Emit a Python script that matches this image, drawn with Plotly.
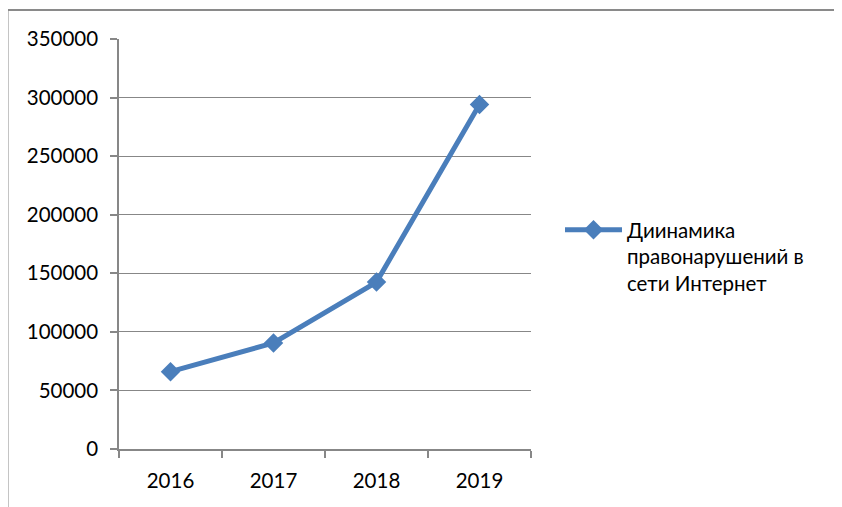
import plotly.graph_objects as go

years = ["2016", "2017", "2018", "2019"]
values = [66000, 90500, 142500, 294000]
series_name = "Диинамика<br>правонарушений в<br>сети Интернет"

OFF = 8  # page body margin
W, H = 842, 507
L, T = 119 - OFF, 39 - OFF
pw = 531 - 119
ph = 449.3 - 39
R = W - L - pw
B = H - T - ph

fig = go.Figure()
fig.add_trace(go.Scatter(
    x=years, y=values, mode="lines+markers", name=series_name,
    line=dict(color="#4A7EBB", width=5),
    marker=dict(symbol="diamond", size=15, color="#4A7EBB"),
))

font = dict(family="Lato, Carlito, sans-serif", size=20.5, color="#000000")
bx = (7.5 - 119) / pw
by = (449.3 - 10) / ph
fig.update_layout(
    width=W, height=H,
    margin=dict(l=L, r=R, t=T, b=B),
    plot_bgcolor="white", paper_bgcolor="white",
    font=font,
    showlegend=True,
    legend=dict(x=(560 - 119) / pw, y=(449.3 - 210) / ph, xanchor="left", yanchor="top",
                font=dict(size=20.5), itemwidth=57, valign="top", bgcolor="rgba(0,0,0,0)"),
    xaxis=dict(type="category", range=[-0.5, 3.5], showgrid=False,
               showline=True, linecolor="#878787", linewidth=1.5,
               ticks="outside", tickson="boundaries", ticklen=7, tickcolor="#878787", tickwidth=1.5,
               tickfont=font, ticklabelstandoff=13),
    yaxis=dict(range=[0, 350000], dtick=50000, showgrid=True, gridcolor="#878787", gridwidth=1.3,
               showline=True, linecolor="#878787", linewidth=1.5, zeroline=False,
               ticks="outside", ticklen=7, tickcolor="#878787", tickwidth=1.5,
               tickformat="d", tickfont=font, ticklabelstandoff=8),
    shapes=[
        dict(type="line", xref="paper", yref="paper", x0=bx, x1=2.0, y0=by, y1=by,
             line=dict(color="#8a8a8a", width=2), layer="below"),
        dict(type="line", xref="paper", yref="paper", x0=bx, x1=bx, y0=by, y1=-1.0,
             line=dict(color="#8a8a8a", width=2), layer="below"),
    ],
)
fig.write_html("out.html")
